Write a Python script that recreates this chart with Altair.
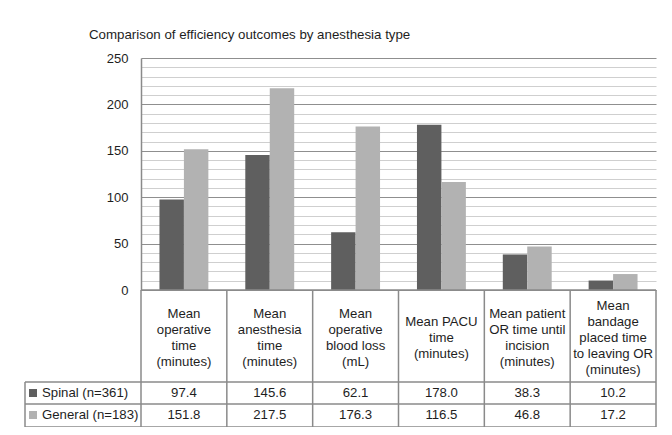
import altair as alt
import pandas as pd

# ---- data ----
categories = [
    "Mean\noperative\ntime\n(minutes)",
    "Mean\nanesthesia\ntime\n(minutes)",
    "Mean\noperative\nblood loss\n(mL)",
    "Mean PACU\ntime\n(minutes)",
    "Mean patient\nOR time until\nincision\n(minutes)",
    "Mean\nbandage\nplaced time\nto leaving OR\n(minutes)",
]
series = ["Spinal (n=361)", "General (n=183)"]
spinal = [97.4, 145.6, 62.1, 178.0, 38.3, 10.2]
general = [151.8, 217.5, 176.3, 116.5, 46.8, 17.2]
y_ticks = list(range(0, 251, 10))
title_text = "Comparison of efficiency outcomes by anesthesia type"

rows = []
for s, vals in zip(series, [spinal, general]):
    for c, v in zip(categories, vals):
        rows.append({"cat": c, "series": s, "value": v, "label": f"{v:.1f}"})
df = pd.DataFrame(rows)
cat_df = pd.DataFrame({"cat": categories})
one = pd.DataFrame({"k": [0]})

FONT = "Liberation Sans"
W, PLOT_H = 515, 232
H = 369
LH = 16
HEADER_MID = 279.5
DARK, LIGHT = "#5f5f5f", "#b2b2b2"
LINE = "#8a8a8a"
TXT = "#1e1e1e"
FS = 13.2

# header lines, vertically centred in the header row
line_rows = []
for c in categories:
    parts = c.split("\n")
    n = len(parts)
    for i, p in enumerate(parts):
        line_rows.append({"cat": c, "line": p,
                          "ypix": HEADER_MID + (i - (n - 1) / 2) * LH})
lines_df = pd.DataFrame(line_rows)

xcat = alt.X("cat:N", sort=categories,
             scale=alt.Scale(paddingInner=0, paddingOuter=0), axis=None)
yscale = alt.Scale(domain=[0, 250], range=[PLOT_H, 0], nice=False, zero=True)
color = alt.Color("series:N", sort=series,
                  scale=alt.Scale(domain=series, range=[DARK, LIGHT]), legend=None)

bars = alt.Chart(df).mark_bar().encode(
    x=xcat,
    xOffset=alt.XOffset("series:N", sort=series,
                        scale=alt.Scale(paddingInner=0, paddingOuter=0.755)),
    y=alt.Y("value:Q", scale=yscale, title=None,
            axis=alt.Axis(values=y_ticks, ticks=False, labelPadding=13,
                          labelExpr="datum.value % 50 === 0 ? datum.label : ''",
                          labelFont=FONT, labelFontSize=13, labelColor=TXT,
                          domainColor=LINE, domainWidth=1.5,
                          grid=True,
                          gridColor=alt.condition("datum.value % 50 === 0",
                                                  alt.value("#8f8f8f"), alt.value("#cfcfcf")),
                          gridWidth=1.2)),
    color=color,
)

# baseline at zero
base = alt.Chart(one).mark_rule(color=LINE, strokeWidth=1.5).encode(
    x=alt.value(0), x2=alt.value(W), y=alt.value(PLOT_H))

# table grid
vlines = alt.Chart(cat_df).mark_rule(color=LINE, strokeWidth=1.5).encode(
    x=alt.X("cat:N", sort=categories, bandPosition=0,
            scale=alt.Scale(paddingInner=0, paddingOuter=0), axis=None),
    y=alt.value(PLOT_H), y2=alt.value(H))
right_edge = alt.Chart(one).mark_rule(color=LINE, strokeWidth=1.5).encode(
    x=alt.value(W), y=alt.value(PLOT_H), y2=alt.value(H))
left_edge = alt.Chart(one).mark_rule(color=LINE, strokeWidth=1.5).encode(
    x=alt.value(-116), y=alt.value(324), y2=alt.value(H))
hlines = [
    alt.Chart(one).mark_rule(color=LINE, strokeWidth=1.5).encode(
        x=alt.value(-116), x2=alt.value(W), y=alt.value(yy))
    for yy in (324, 346, H)
]

headers = alt.Chart(lines_df).mark_text(
    font=FONT, fontSize=FS, color=TXT, baseline="middle", align="center").encode(
    x=xcat,
    y=alt.Y("ypix:Q", scale=alt.Scale(domain=[0, H], range=[0, H], nice=False, zero=False),
            axis=None),
    text="line:N")

row_layers = []
for s, yy in zip(series, (335, 357)):
    sub = df[df["series"] == s]
    row_layers.append(alt.Chart(sub).mark_text(
        font=FONT, fontSize=FS, color=TXT, baseline="middle").encode(
        x=xcat, y=alt.value(yy), text="label:N"))
    row_layers.append(alt.Chart(sub.head(1)).mark_square(size=64, opacity=1).encode(
        x=alt.value(-108), y=alt.value(yy), color=color))
    row_layers.append(alt.Chart(sub.head(1)).mark_text(
        font=FONT, fontSize=FS, color=TXT, align="left", baseline="middle").encode(
        x=alt.value(-99), y=alt.value(yy), text="series:N"))

chart = alt.layer(
    bars, base, vlines, right_edge, left_edge, *hlines, headers, *row_layers
).resolve_scale(y="independent").properties(
    width=W, height=H,
    title=alt.Title(title_text, anchor="start", frame="group", dx=-52, offset=11,
                    font=FONT, fontSize=13.3, fontWeight="normal", color=TXT),
    autosize=alt.AutoSizeParams(type="none"),
    padding={"left": 133, "top": 50, "right": 8, "bottom": 0},
    background="white",
).configure_view(stroke=None)

chart.save("out.html", embed_options={"renderer": "svg", "actions": False})
